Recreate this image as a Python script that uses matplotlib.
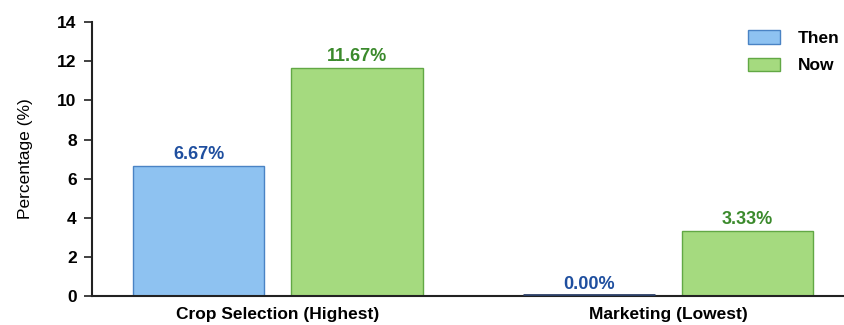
import matplotlib
matplotlib.use("Agg")
import matplotlib.pyplot as plt
import numpy as np

# data
categories = ["Crop Selection (Highest)", "Marketing (Lowest)"]
then_vals = [6.67, 0.00]
now_vals = [11.67, 3.33]
series_names = ["Then", "Now"]
yticks = [0, 2, 4, 6, 8, 10, 12, 14]

plt.rcParams['font.family'] = ['Liberation Sans', 'DejaVu Sans']

fig = plt.figure(figsize=(8.44, 3.25), dpi=100)
# axes runs a little past the right edge, like the cropped original
ax = fig.add_axes([0.109, 0.089, 0.901, 0.843])

x = np.arange(len(categories))
w = 0.336
off = 0.203

blue_fill, blue_edge, blue_txt = '#8ec2f1', '#4a83c4', '#1f4f9f'
green_fill, green_edge, green_txt = '#a5da7f', '#62a845', '#3b8a2c'

ax.bar(x - off, then_vals, w, color=blue_fill, edgecolor=blue_edge,
       linewidth=1.0, label=series_names[0])
ax.bar(x + off, now_vals, w, color=green_fill, edgecolor=green_edge,
       linewidth=1.0, label=series_names[1])
# zero bar shows as a dark line on the axis
for i, v in enumerate(then_vals):
    if v == 0:
        ax.plot([x[i] - off - w / 2, x[i] - off + w / 2], [0.03, 0.03],
                color='#2b3f66', lw=2.0, solid_capstyle='butt', zorder=4)

for xi, v in zip(x - off, then_vals):
    ax.text(xi, v + 0.15, '%.2f%%' % v, ha='center', va='bottom',
            color=blue_txt, fontsize=13, fontweight='bold')
for xi, v in zip(x + off, now_vals):
    ax.text(xi, v + 0.15, '%.2f%%' % v, ha='center', va='bottom',
            color=green_txt, fontsize=13, fontweight='bold')

ax.set_xlim(-0.476, 1.472)
ax.set_ylim(0, 14)
ax.set_yticks(yticks)
ax.set_xticks(x)
ax.set_xticklabels(categories, fontsize=12.5, fontweight='bold')
for lab in ax.get_yticklabels():
    lab.set_fontweight('bold')
    lab.set_fontsize(12.5)
ax.set_ylabel('Percentage (%)', fontsize=12.5)
ax.yaxis.set_label_coords(-0.077, 0.5)
ax.tick_params(axis='y', length=6, width=1.3, pad=5, color='#333333')
ax.tick_params(axis='x', length=0, pad=8)

for s in ['top', 'right']:
    ax.spines[s].set_visible(False)
for s in ['left', 'bottom']:
    ax.spines[s].set_linewidth(1.5)
    ax.spines[s].set_color('#222222')

leg = fig.legend(loc='upper left', bbox_to_anchor=(748 / 844, 1 - 30 / 325),
                 frameon=False, prop={'size': 12.5, 'weight': 'bold'},
                 handlelength=1.84, handleheight=0.85, labelspacing=0.67,
                 handletextpad=1.03, borderpad=0, borderaxespad=0)

fig.savefig('out.png', dpi=100)
